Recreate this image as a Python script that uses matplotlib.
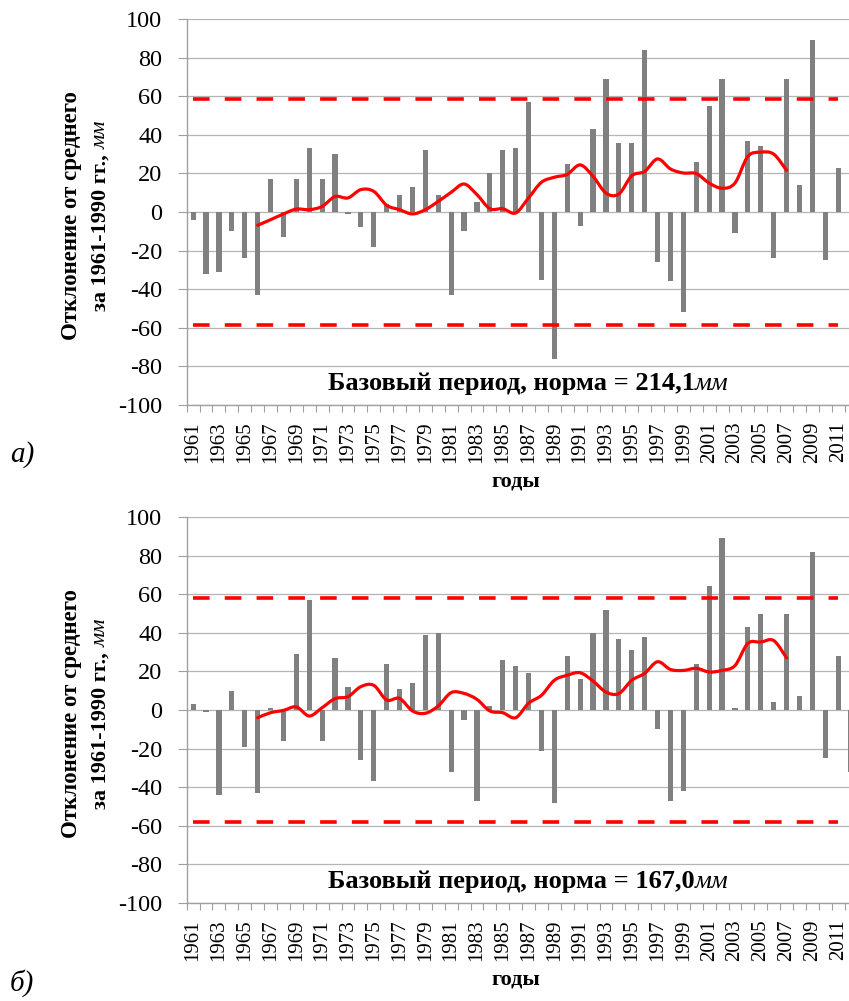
import numpy as np
import matplotlib
matplotlib.use('Agg')
import matplotlib.pyplot as plt
from matplotlib.path import Path
from matplotlib.patches import PathPatch

plt.rcParams['font.family'] = ['Liberation Serif', 'DejaVu Serif']
plt.rcParams['axes.unicode_minus'] = False

# годы и отклонения осадков от нормы 1961-1990 (мм)
years = list(range(1961, 2013))
anom_a = [-4, -32, -31, -10, -24, -43, 17, -13, 17, 33,
          17, 30, -1, -8, -18, 4, 9, 13, 32, 9,
          -43, -10, 5, 20, 32, 33, 57, -35, -76, 25,
          -7, 43, 69, 36, 36, 84, -26, -36, -52, 26,
          55, 69, -11, 37, 34, -24, 69, 14, 89, -25,
          23, np.nan]
anom_b = [3, -1, -44, 10, -19, -43, 1, -16, 29, 57,
          -16, 27, 12, -26, -37, 24, 11, 14, 39, 40,
          -32, -5, -47, 2, 26, 23, 19, -21, -48, 28,
          16, 40, 52, 37, 31, 38, -10, -47, -42, 24,
          64, 89, 1, 43, 50, 4, 50, 7, 82, -25,
          28, -32]

# сглаженная кривая 1966-2007
smooth_years = list(range(1966, 2008))
smooth_a = [-6.9, -4, -1, 1.5, 1.2, 2.9, 8, 7.3, 11.6, 10.7,
            3.5, 1.2, -1, 1.2, 5.5, 10.2, 14.5, 9, 1.7, 1.7,
            -0.5, 7.3, 15.4, 18, 19.5, 24.4, 18.5, 9.8, 9.3, 18.8,
            21, 27.5, 22.3, 20.2, 19.9, 15, 12.3, 15, 28.8, 31,
            30, 21.6]
smooth_b = [-4, -1.4, -0.2, 1.6, -3.1, 1.2, 5.9, 6.9, 12.1, 12.8,
            5.2, 6, -0.5, -1.7, 2.1, 9, 8.6, 5.5, -0.5, -1.4,
            -4, 3.5, 7.6, 15.4, 18, 19.3, 15, 9.3, 8.5, 15.4,
            19, 25, 21, 20.5, 21.6, 19.7, 20.5, 23, 34.5, 35.2,
            36, 27]

# критические значения (пунктир)
crit_a = 58.5
crit_b = 57.8
norm_a = "214,1"
norm_b = "167,0"

W, H = 849, 1001
fig = plt.figure(figsize=(W / 100, H / 100), dpi=100)

GRID = '#b4b4b4'
SPINE = '#a0a0a0'


def smooth_path(xs, ys):
    # кривая Безье через точки (как сглаженная линия в Excel)
    p = np.column_stack([xs, ys]).astype(float)
    verts = [p[0]]
    codes = [Path.MOVETO]
    n = len(p)
    for i in range(n - 1):
        p0 = p[i - 1] if i > 0 else p[i]
        p3 = p[i + 2] if i + 2 < n else p[i + 1]
        c1 = p[i] + (p[i + 1] - p0) / 6.0
        c2 = p[i + 1] - (p3 - p[i]) / 6.0
        verts += [c1, c2, p[i + 1]]
        codes += [Path.CURVE4] * 3
    return Path(verts, codes)


def px(x, y):
    return x / W, 1 - y / H


def draw_panel(top, anom, smooth, crit, norm, letter, letter_y):
    shift = top - 19
    ax = fig.add_axes([186.7 / W, 1 - (top + 386) / H, 670.8 / W, 386 / H])
    x = np.arange(len(years))
    ax.bar(x, anom, width=0.4, color='#808080', zorder=3)

    sx = np.array(smooth_years) - years[0]
    ax.add_patch(PathPatch(smooth_path(sx, smooth), fc='none', ec='#ff0000',
                           lw=2.3, zorder=5, capstyle='round', joinstyle='round'))

    cx = x[:-1]
    for c in (crit, -crit):
        ax.plot(cx, np.full(len(cx), c), color='#ff0000', lw=2.6,
                dashes=(4.6, 4.2), zorder=4)

    ax.set_xlim(-0.5, len(years) - 0.5)
    ax.set_ylim(-100, 100)
    ax.set_yticks(np.arange(-100, 101, 20))
    ax.yaxis.grid(True, color=GRID, lw=0.9, zorder=0)
    ax.set_axisbelow(True)
    ax.tick_params(axis='y', length=6.5, width=0.8, color=SPINE, pad=11,
                   labelsize=17.5)

    ax.set_xticks(x[:-1:2])
    ax.set_xticklabels([str(y) for y in years[:-1:2]], rotation=90)
    ax.set_xticks(np.arange(-0.5, len(years), 1), minor=True)
    ax.tick_params(axis='x', which='major', length=0, pad=12, labelsize=15)
    ax.tick_params(axis='x', which='minor', length=5, width=0.8, color=SPINE)

    for s in ('top', 'right'):
        ax.spines[s].set_visible(False)
    for s in ('left', 'bottom'):
        ax.spines[s].set_color(SPINE)
        ax.spines[s].set_linewidth(1.0)

    # подписи оси Y
    yc = 216 + shift
    fig.text(*px(72, yc), 'Отклонение от среднего', rotation=90,
             ha='center', va='center', fontsize=16.5, fontweight='bold')
    fig.canvas.draw()
    r = fig.canvas.get_renderer()
    t1 = fig.text(*px(106, 0), 'за 1961-1990 гг., ', rotation=90,
                  rotation_mode='anchor', ha='left', va='baseline',
                  fontsize=16, fontweight='bold')
    t2 = fig.text(*px(106, 0), 'мм', rotation=90, rotation_mode='anchor',
                  ha='left', va='baseline', fontsize=16, fontstyle='italic')
    l1 = t1.get_window_extent(r).height
    l2 = t2.get_window_extent(r).height
    y0 = yc + (l1 + l2) / 2
    t1.set_position(px(106, y0))
    t2.set_position(px(106, y0 - l1))

    # базовый период
    b1 = ax.text(0, 0, 'Базовый период, норма = ' + norm, fontsize=19,
                 fontweight='bold', ha='left', va='baseline')
    b2 = ax.text(0, 0, 'мм', fontsize=19, fontstyle='italic',
                 ha='left', va='baseline')
    w1 = b1.get_window_extent(r).width
    w2 = b2.get_window_extent(r).width
    bx = 528 - (w1 + w2) / 2
    b1.set_transform(fig.transFigure)
    b2.set_transform(fig.transFigure)
    b1.set_position(px(bx, 390 + shift))
    b2.set_position(px(bx + w1, 390 + shift))

    fig.text(*px(516, 482 + shift), 'годы', ha='center', va='center',
             fontsize=16, fontweight='bold')
    fig.text(*px(22, letter_y), letter, ha='center', va='center',
             fontsize=21, fontstyle='italic')
    return ax


draw_panel(19, anom_a, smooth_a, crit_a, norm_a, 'а)', 455)
draw_panel(517, anom_b, smooth_b, crit_b, norm_b, 'б)', 983)

fig.savefig('out.png', dpi=100)
